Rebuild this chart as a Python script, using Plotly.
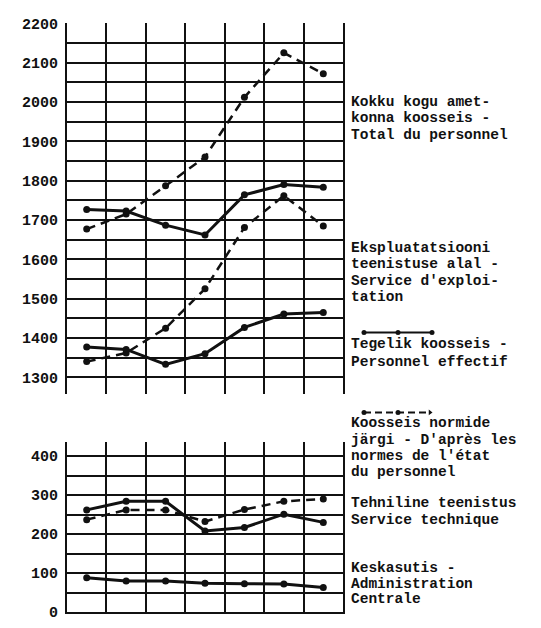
import plotly.graph_objects as go

# ---- data ----
periods = [1, 2, 3, 4, 5, 6, 7]
total_actual = [1727, 1723, 1687, 1662, 1764, 1790, 1783]
total_norm = [1677, 1715, 1787, 1860, 2012, 2125, 2072]
expl_actual = [1377, 1371, 1333, 1360, 1427, 1461, 1465]
expl_norm = [1340, 1362, 1425, 1525, 1681, 1762, 1685]
tech_actual = [262, 284, 284, 208, 217, 251, 230]
tech_norm = [237, 262, 262, 232, 263, 284, 290]
admin_actual = [88, 80, 80, 74, 73, 72, 63]

top_ticks = [1300, 1400, 1500, 1600, 1700, 1800, 1900, 2000, 2100, 2200]
bottom_ticks = [0, 100, 200, 300, 400]
col_edges = [0.5, 1.5, 2.5, 3.5, 4.5, 5.5, 6.5, 7.5]

W, H = 541, 628
INK = "#111111"
MONO = "Liberation Mono"


def px(xp):
    return xp / W


def py(yp):
    return 1 - yp / H


fig = go.Figure()


def solid(x, y, xa, ya):
    fig.add_trace(go.Scatter(x=x, y=y, xaxis=xa, yaxis=ya, mode="lines+markers",
                             line=dict(color=INK, width=3),
                             marker=dict(color=INK, size=7), showlegend=False,
                             hoverinfo="skip"))


def dashed(x, y, xa, ya):
    fig.add_trace(go.Scatter(x=x, y=y, xaxis=xa, yaxis=ya, mode="lines+markers",
                             line=dict(color=INK, width=2.5, dash="9px,6px"),
                             marker=dict(color=INK, size=7), showlegend=False,
                             hoverinfo="skip"))


dashed(periods, total_norm, "x", "y")
solid(periods, total_actual, "x", "y")
dashed(periods, expl_norm, "x", "y")
solid(periods, expl_actual, "x", "y")
dashed(periods, tech_norm, "x2", "y2")
solid(periods, tech_actual, "x2", "y2")
solid(periods, admin_actual, "x2", "y2")

# legend samples on a pixel-overlay axis (window pixel coordinates)
fig.add_trace(go.Scatter(x=[364, 398, 432], y=[335, 335, 335], xaxis="x3", yaxis="y3",
                         mode="lines+markers", line=dict(color=INK, width=2),
                         marker=dict(color=INK, size=5), showlegend=False, hoverinfo="skip"))
fig.add_trace(go.Scatter(x=[364, 398, 430], y=[417, 417, 417], xaxis="x3", yaxis="y3",
                         mode="lines+markers", line=dict(color=INK, width=2, dash="7px,4px"),
                         marker=dict(color=INK, size=5, symbol=["circle", "circle", "triangle-right"]),
                         showlegend=False, hoverinfo="skip"))

xdom = [px(67), px(343)]
top_dom = [py(398), py(17)]
bot_dom = [py(622), py(447)]

xcommon = dict(range=[0.5, 7.5], domain=xdom, tickvals=col_edges, showticklabels=False,
               showgrid=True, gridcolor=INK, gridwidth=2, zeroline=False, ticks="")
ycommon = dict(showgrid=True, gridcolor=INK, gridwidth=2, ticks="", zeroline=False,
               showline=True, linecolor=INK, linewidth=2, mirror=True,
               tickfont=dict(family=MONO, size=15, color=INK, weight="bold"),
               ticklabelstandoff=4, ticklabeloverflow="allow",
               minor=dict(dtick=50, showgrid=True, gridcolor=INK, gridwidth=2))

fig.update_layout(
    width=W, height=H, margin=dict(l=0, r=0, t=0, b=0),
    paper_bgcolor="white", plot_bgcolor="rgba(0,0,0,0)",
    xaxis=dict(**xcommon, showline=False, anchor="y"),
    yaxis=dict(**ycommon, domain=top_dom, range=[1258, 2202], tickvals=top_ticks, anchor="x"),
    xaxis2=dict(**xcommon, showline=True, linecolor=INK, linewidth=2, anchor="y2"),
    yaxis2=dict(**ycommon, domain=bot_dom, range=[0, 437], tickvals=bottom_ticks, anchor="x2"),
    xaxis3=dict(domain=[0, 1], range=[0, W], visible=False, anchor="y3"),
    yaxis3=dict(domain=[0, 1], range=[H, 0], visible=False, anchor="x3"),
)

labels = [
    ("Kokku kogu amet-", 98), ("konna koosseis -", 115), ("Total du personnel", 132),
    ("Ekspluatatsiooni", 248), ("teenistuse alal -", 265), ("Service d'exploi-", 282), ("tation", 299),
    ("Tegelik koosseis -", 347), ("Personnel effectif", 365),
    ("Koosseis normide", 428), ("järgi - D'après les", 445), ("normes de l'état", 462), ("du personnel", 478),
    ("Tehniline teenistus", 510), ("Service technique", 527),
    ("Keskasutis -", 577), ("Administration", 593), ("Centrale", 609),
]
for txt, ypx in labels:
    fig.add_annotation(x=px(349), y=py(ypx), xref="paper", yref="paper",
                       xanchor="left", yanchor="middle", text=txt, showarrow=False,
                       font=dict(family=MONO, size=14.5, color=INK, weight="bold"))

fig.write_html(
    "out.html",
    config={"displayModeBar": False},
    post_script="document.body.style.margin='0';document.body.style.overflow='hidden';",
)
